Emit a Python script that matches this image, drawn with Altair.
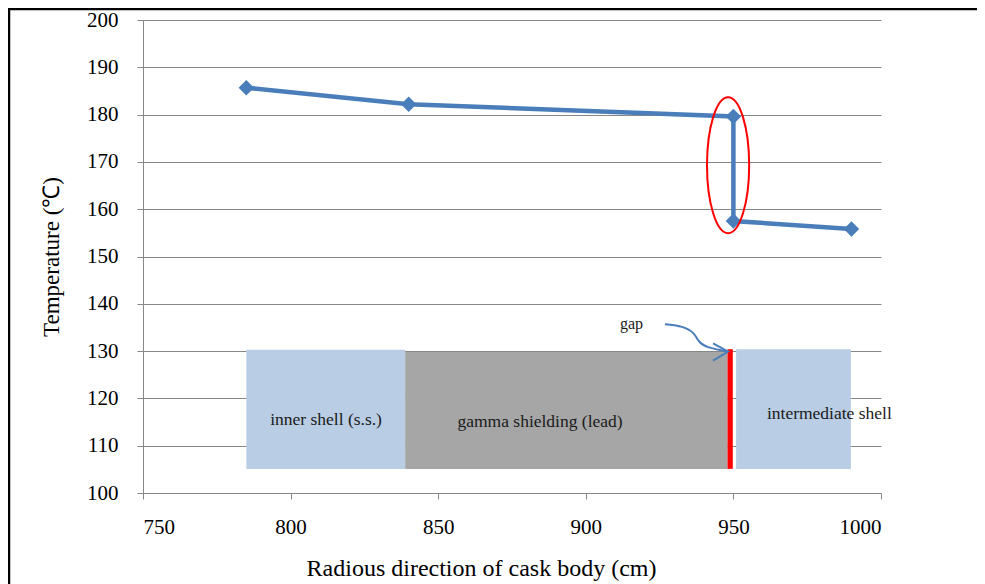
import altair as alt
import pandas as pd

# Temperature profile through the cask wall
radius = [785, 840, 950, 950, 990]
temperature = [185.7, 182.2, 179.6, 157.5, 155.8]

# Material regions drawn as boxes
region_names = ["inner shell", "gamma shielding", "gap", "intermediate shell"]
region_start = [785, 838.8, 948.0, 950.9]
region_end = [838.8, 948.0, 949.8, 989.8]
region_bottom = [105.1, 105.1, 105.1, 105.1]
region_top = [130.3, 129.8, 130.4, 130.4]
region_colors = ["#b9cde5", "#a6a6a6", "#ff0000", "#b9cde5"]

# Region labels
label_texts = ["inner shell (s.s.)", "gamma  shielding (lead)", "intermediate shell"]
label_x = [812.0, 884.5, 982.5]
label_y = [115.4, 115.0, 116.6]

# "gap" annotation
gap_text = ["gap"]
gap_x = [915.5]
gap_y = [135.8]
arrow_x = [926.8, 932.9, 937.0, 938.0, 941.1, 948.2]
arrow_y = [135.7, 135.3, 133.8, 132.0, 130.7, 129.9]

# Highlight ellipse around the temperature jump
ellipse_x = [948.2]
ellipse_y = [169.3]

# Tick values
x_ticks = [750, 800, 850, 900, 950, 1000]
y_ticks = list(range(100, 201, 10))

SERIF = "Liberation Serif"
BLUE = "#4a7ebb"

line_df = pd.DataFrame({"r": radius, "t": temperature, "order": list(range(len(radius)))})
box_df = pd.DataFrame({
    "name": region_names, "x0": region_start, "x1": region_end,
    "y0": region_bottom, "y1": region_top, "color": region_colors,
})
lab_df = pd.DataFrame({"text": label_texts, "x": label_x, "y": label_y})
gap_df = pd.DataFrame({"text": gap_text, "x": gap_x, "y": gap_y})
arrow_df = pd.DataFrame({"x": arrow_x, "y": arrow_y, "order": list(range(len(arrow_x)))})
tip_df = pd.DataFrame({"x": [arrow_x[-1]], "y": [arrow_y[-1]]})
ell_df = pd.DataFrame({"x": ellipse_x, "y": ellipse_y})

xscale = alt.Scale(domain=[750, 1000], nice=False, zero=False)
yscale = alt.Scale(domain=[100, 200], nice=False, zero=False)

xaxis = alt.Axis(values=x_ticks, grid=False, format="d",
                 labelFont=SERIF, labelFontSize=21,
                 title="Radious direction of cask body (cm)", titleX=338)
yaxis = alt.Axis(values=y_ticks, grid=True, format="d",
                 labelFont=SERIF, labelFontSize=21,
                 title="Temperature (℃)")

def xy(xf, yf):
    return dict(
        x=alt.X(xf, scale=xscale, axis=xaxis),
        y=alt.Y(yf, scale=yscale, axis=yaxis),
    )

base_axes = alt.Chart(line_df).mark_point(opacity=0).encode(**xy("r:Q", "t:Q"))

boxes = alt.Chart(box_df).mark_rect(opacity=1).encode(
    x2="x1:Q", y2="y1:Q",
    color=alt.Color("color:N", scale=None, legend=None),
    **xy("x0:Q", "y0:Q"),
)

labels = alt.Chart(lab_df).mark_text(
    font=SERIF, fontSize=17.5, color="#1a1a1a", align="center", baseline="middle"
).encode(text="text:N", **xy("x:Q", "y:Q"))

gap_label = alt.Chart(gap_df).mark_text(
    font=SERIF, fontSize=16, color="#1a1a1a", align="center", baseline="middle"
).encode(text="text:N", **xy("x:Q", "y:Q"))

arrow = alt.Chart(arrow_df).mark_line(
    color=BLUE, strokeWidth=2, interpolate="basis"
).encode(order="order:Q", **xy("x:Q", "y:Q"))

tip = alt.Chart(tip_df).mark_point(
    shape="M-1,-0.55 L0,0 L-1,0.6", size=900, filled=False, opacity=1,
    color=BLUE, strokeWidth=2,
).encode(**xy("x:Q", "y:Q"))

line = alt.Chart(line_df).mark_line(color=BLUE, strokeWidth=4.5).encode(
    order="order:Q", **xy("r:Q", "t:Q")
)

points = alt.Chart(line_df).mark_point(
    shape="diamond", filled=True, size=240, opacity=1, color=BLUE
).encode(**xy("r:Q", "t:Q"))

ellipse = alt.Chart(ell_df).mark_point(
    shape="M0,-1 A0.31,1 0 1,1 0,1 A0.31,1 0 1,1 0,-1 Z",
    size=18496, filled=False, opacity=1, color="#ff0000", strokeWidth=2,
).encode(**xy("x:Q", "y:Q"))

# Outer frame: only the top and left edges fall inside the canvas
frame_df = pd.DataFrame({"a": [0]})
frame = alt.Chart(frame_df).mark_rect(
    fill="transparent", stroke="#000000", strokeWidth=2.5
).encode(
    x=alt.value(-134), x2=alt.value(1000), y=alt.value(-11), y2=alt.value(700)
)

chart = alt.layer(
    base_axes, boxes, labels, gap_label, arrow, tip, line, points, ellipse, frame
).properties(
    width=738, height=473,
    autosize=alt.AutoSizeParams(type="none"),
    padding={"left": 135, "top": 12, "right": 96, "bottom": 91},
    background="#ffffff",
).configure(
    style={"guide-label": {"font": SERIF, "fontSize": 21, "fill": "#000000"}}
).configure_view(
    stroke=None
).configure_axis(
    labelFont=SERIF, labelFontSize=21, labelColor="#000000",
    titleFont=SERIF, titleFontWeight="normal", titleColor="#000000",
    domainColor="#878787", tickColor="#878787", gridColor="#878787", tickSize=6,
).configure_axisX(
    labelPadding=17, titleFontSize=24, titlePadding=19,
).configure_axisY(
    labelPadding=19, titleFontSize=23, titlePadding=23,
)

chart.save("out.html", embed_options={"renderer": "svg", "actions": False})
